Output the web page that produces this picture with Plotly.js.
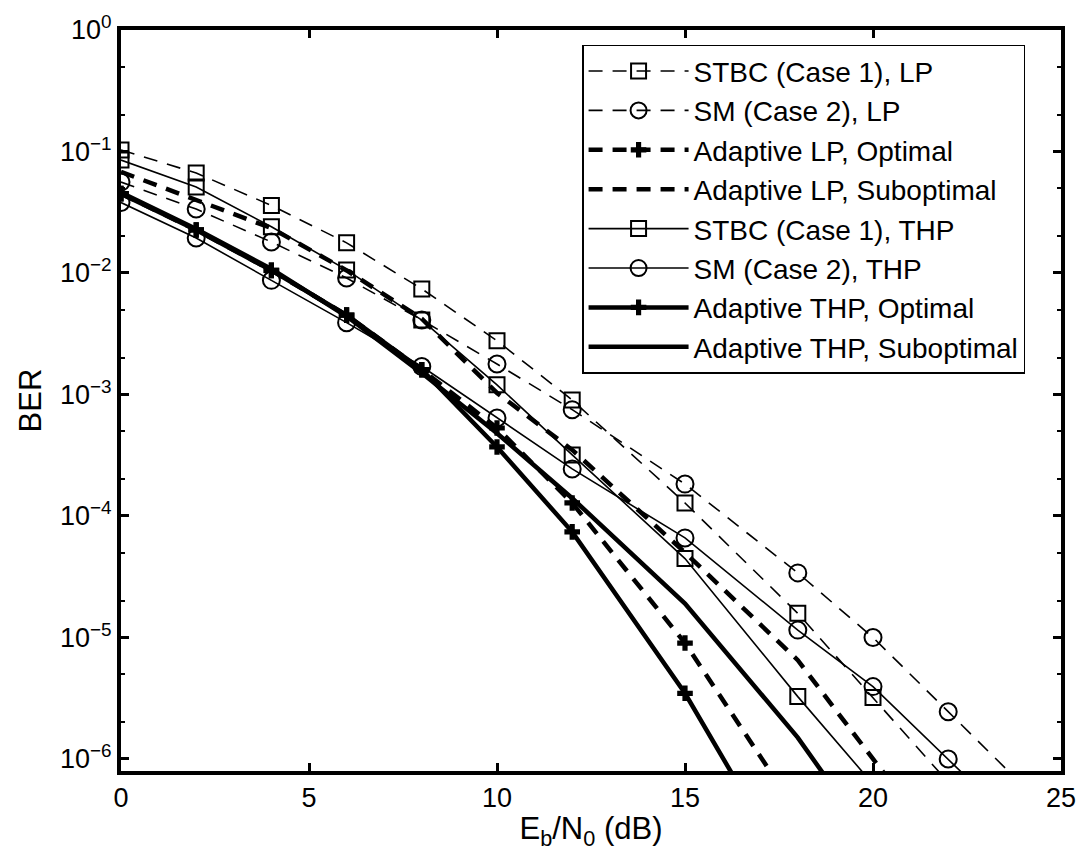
<!DOCTYPE html>
<html>
<head>
<meta charset="utf-8">
<script src="https://cdn.plot.ly/plotly-3.0.1.min.js"></script>
<style>html,body{margin:0;padding:0;background:#fff;}#chart{width:1077px;height:863px;}</style>
</head>
<body>
<div id="chart"></div>
<script>
// Eb/N0 (dB) sample points
const snr = [0, 2, 4, 6, 8, 10, 12, 15, 18, 20, 22, 24];

// BER values (values below 1e-6 lie under the axis)
const stbcLP       = [0.103, 0.0665, 0.036, 0.0177, 0.0074, 0.00277, 0.0009, 0.000128, 1.58e-5, 3.2e-6, 6.6e-7, 1.3e-7];
const smLP         = [0.056, 0.0336, 0.018, 0.0091, 0.0041, 0.00178, 0.00075, 0.000183, 3.4e-5, 1.0e-5, 2.45e-6, 6.0e-7];
const adLPopt      = [0.045, 0.0226, 0.0105, 0.0045, 0.0016, 0.00053, 0.000128, 9.0e-6, 3.6e-7, null, null, null];
const adLPsub      = [0.068, 0.040, 0.0234, 0.0105, 0.0042, 0.00103, 0.00035, 5.0e-5, 6.5e-6, 1.0e-6, 1.6e-7, null];
const stbcTHP      = [0.085, 0.051, 0.024, 0.0106, 0.0041, 0.0012, 0.000318, 4.46e-5, 3.26e-6, 6.2e-7, null, null];
const smTHP        = [0.038, 0.0194, 0.0087, 0.0039, 0.0017, 0.00064, 0.000244, 6.6e-5, 1.15e-5, 3.94e-6, 1.0e-6, 2.5e-7];
const adTHPopt     = [0.045, 0.0226, 0.0105, 0.0045, 0.0016, 0.00037, 7.4e-5, 3.47e-6, 9e-8, null, null, null];
const adTHPsub     = [0.046, 0.023, 0.0108, 0.0044, 0.0015, 0.00048, 0.00014, 1.9e-5, 1.5e-6, 2e-7, null, null];

const seriesNames = [
  "STBC (Case 1), LP",
  "SM (Case 2), LP",
  "Adaptive LP, Optimal",
  "Adaptive LP, Suboptimal",
  "STBC (Case 1), THP",
  "SM (Case 2), THP",
  "Adaptive THP, Optimal",
  "Adaptive THP, Suboptimal"
];

const yTickVals = [1, 1e-1, 1e-2, 1e-3, 1e-4, 1e-5, 1e-6];
const yTickText = ["10<sup>0</sup>", "10<sup>−1</sup>", "10<sup>−2</sup>", "10<sup>−3</sup>", "10<sup>−4</sup>", "10<sup>−5</sup>", "10<sup>−6</sup>"];
const xTickVals = [0, 5, 10, 15, 20, 25];

const thinDash = "14px,10px";
const thickDash = "14px,10px";
const openSq = {symbol: "square-open", size: 15, color: "#000", line: {width: 2, color: "#000"}};
const openCi = {symbol: "circle-open", size: 17, color: "#000", line: {width: 2, color: "#000"}};
const plusM = {symbol: "cross", size: 13, color: "#000", line: {width: 0}};

function tr(y, name, line, marker) {
  const t = {x: snr, y: y, name: name, type: "scatter", line: line, connectgaps: false};
  if (marker) { t.mode = "lines+markers"; t.marker = marker; } else { t.mode = "lines"; }
  return t;
}

const data = [
  tr(stbcLP, seriesNames[0], {color: "#000", width: 1.6, dash: thinDash}, openSq),
  tr(smLP, seriesNames[1], {color: "#000", width: 1.6, dash: thinDash}, openCi),
  tr(adLPopt, seriesNames[2], {color: "#000", width: 4.5, dash: thickDash}, plusM),
  tr(adLPsub, seriesNames[3], {color: "#000", width: 4.5, dash: thickDash}, null),
  tr(stbcTHP, seriesNames[4], {color: "#000", width: 1.6}, openSq),
  tr(smTHP, seriesNames[5], {color: "#000", width: 1.6}, openCi),
  tr(adTHPopt, seriesNames[6], {color: "#000", width: 4.5}, plusM),
  tr(adTHPsub, seriesNames[7], {color: "#000", width: 4.5}, null)
];

const font = "Liberation Sans, Arial, Helvetica, sans-serif";

const layout = {
  width: 1077, height: 863,
  margin: {l: 121, r: 16, t: 30, b: 92},
  paper_bgcolor: "#fff", plot_bgcolor: "#fff",
  font: {family: font, color: "#000", size: 27},
  showlegend: true,
  legend: {
    x: 0.4905, y: 0.98, xanchor: "left", yanchor: "top",
    bgcolor: "#fff", bordercolor: "#000", borderwidth: 1.5,
    font: {family: font, size: 28, color: "#000"},
    itemwidth: 100, tracegroupgap: 0
  },
  xaxis: {
    range: [0, 25], tickvals: xTickVals, ticktext: xTickVals.map(String),
    showgrid: false, zeroline: false,
    showline: true, linecolor: "#000", linewidth: 4, mirror: "ticks",
    ticks: "inside", ticklen: 8, tickwidth: 3, tickcolor: "#000",
    tickfont: {family: font, size: 27},
    title: {text: "E<sub>b</sub>/N<sub>0</sub> (dB)", font: {family: font, size: 31}, standoff: 6}
  },
  yaxis: {
    type: "log", range: [-6.099, 0],
    tickvals: yTickVals, ticktext: yTickText,
    showgrid: false, zeroline: false,
    showline: true, linecolor: "#000", linewidth: 4, mirror: "ticks",
    ticks: "inside", ticklen: 8, tickwidth: 3, tickcolor: "#000",
    tickfont: {family: font, size: 27},
    minor: {ticks: "inside", ticklen: 4, tickwidth: 2, tickcolor: "#000", showgrid: false},
    title: {text: "BER", font: {family: font, size: 31}, standoff: 10}
  }
};

Plotly.newPlot("chart", data, layout, {displayModeBar: false, staticPlot: true});
</script>
</body>
</html>
